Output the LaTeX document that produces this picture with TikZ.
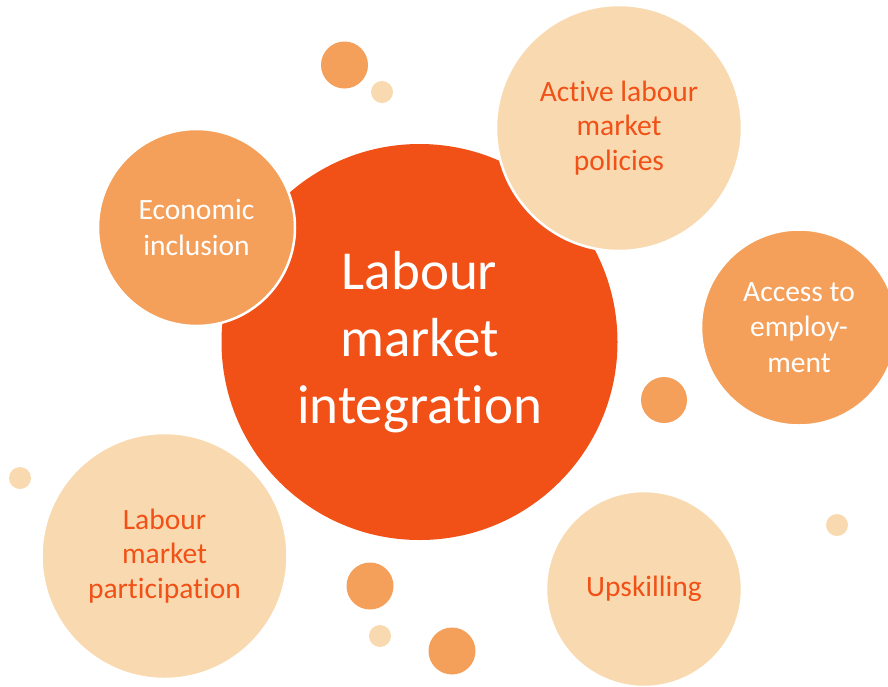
\documentclass[tikz,border=0pt]{standalone}
\usepackage{fontspec}
\setmainfont{Carlito}[Ligatures={NoCommon}]
\usepackage{tikz}

\definecolor{hub}{RGB}{241,80,22}
\definecolor{midorange}{RGB}{244,160,90}
\definecolor{pale}{RGB}{249,218,176}

\tikzset{
	hubcircle/.style={shape=circle,inner sep=0pt,align=center,fill=hub,text=white,font=\fontsize{55}{67}\selectfont},
	darkbubble/.style={shape=circle,inner sep=0pt,align=center,fill=midorange,text=white,draw=white,line width=2.5pt,font=\fontsize{29.5}{35.5}\selectfont},
	palebubble/.style={shape=circle,inner sep=0pt,align=center,fill=pale,text=hub,draw=white,line width=2.5pt,font=\fontsize{29.5}{34.5}\selectfont},
	middot/.style={shape=circle,inner sep=0pt,fill=midorange},
	paledot/.style={shape=circle,inner sep=0pt,fill=pale}
}

\begin{document}
\begin{tikzpicture}[x=1pt,y=-1pt]
	\useasboundingbox (0,0) rectangle (888,686);
	\clip (0,0) rectangle (888,686);
	
	\node[hubcircle,minimum size=396pt] (hub) at (419.5, 342) {Labour\\market\\integration};
	
	\node[darkbubble,minimum size=197pt] (econ)    at (196.5, 227.5) {Economic\\inclusion};
	\node[palebubble,minimum size=246pt] (alm)     at (619, 128)     {Active labour\\market\\policies};
	\node[darkbubble,minimum size=196pt] (access)  at (799, 327.5)   {Access to\\employ-\\ment};
	\node[palebubble,minimum size=246pt] (lmp)     at (164.5, 556)   {Labour\\market\\participation};
	\node[palebubble,minimum size=196pt] (upskill) at (644, 589)     {Upskilling};
	
	\node[middot,minimum size=47pt] (dotA) at (344.5, 65) {};
	\node[paledot,minimum size=22pt] (dotB) at (382, 92)  {};
	\node[middot,minimum size=46pt] (dotC) at (664, 400)  {};
	\node[paledot,minimum size=22pt] (dotD) at (20, 478)  {};
	\node[paledot,minimum size=22pt] (dotE) at (837, 525) {};
	\node[middot,minimum size=47pt] (dotF) at (370, 586)  {};
	\node[paledot,minimum size=22pt] (dotG) at (380, 636) {};
	\node[middot,minimum size=47pt] (dotH) at (452, 651)  {};

\end{tikzpicture}
\end{document}
